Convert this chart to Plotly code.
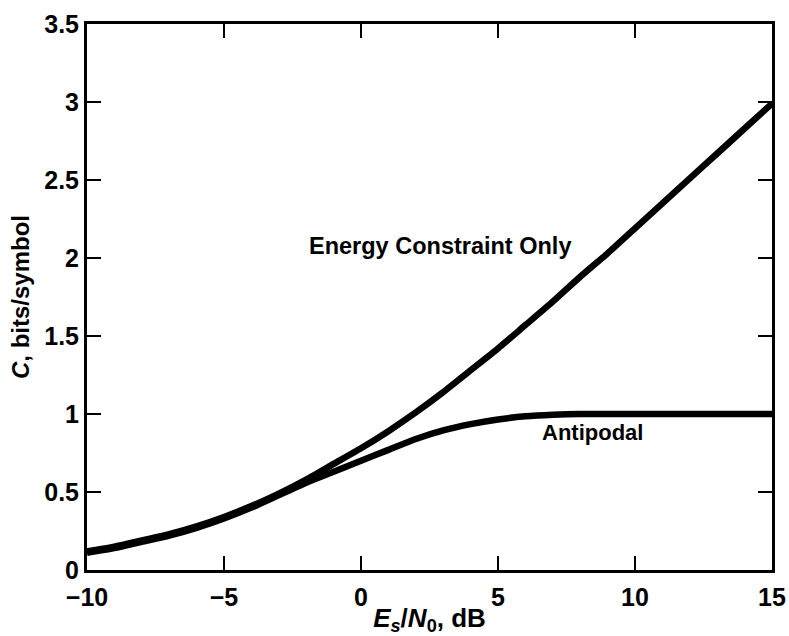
import plotly.graph_objects as go

# Es/N0 in dB
snr_db = [-10, -9, -8, -7, -6, -5, -4, -3, -2, -1, 0, 1, 2, 3, 4, 5,
          6, 7, 8, 9, 10, 11, 12, 13, 14, 15]
# Capacity, bits/symbol
energy_only = [0.12, 0.15, 0.19, 0.23, 0.28, 0.34, 0.41, 0.49, 0.58, 0.68,
               0.78, 0.89, 1.01, 1.14, 1.28, 1.42, 1.57, 1.72, 1.88, 2.03,
               2.19, 2.35, 2.51, 2.67, 2.83, 2.99]
antipodal = [0.11, 0.14, 0.18, 0.22, 0.27, 0.33, 0.40, 0.48, 0.56, 0.63,
             0.70, 0.77, 0.84, 0.895, 0.935, 0.965, 0.985, 0.995, 1.0, 1.0,
             1.0, 1.0, 1.0, 1.0, 1.0, 1.0]

x_ticks = [-10, -5, 0, 5, 10, 15]
y_ticks = [0, 0.5, 1, 1.5, 2, 2.5, 3, 3.5]
y_tick_text = ["0", "0.5", "1", "1.5", "2", "2.5", "3", "3.5"]

FONT = "Liberation Sans, Arial, Helvetica, sans-serif"

fig = go.Figure()
fig.add_trace(go.Scatter(x=snr_db, y=energy_only, mode="lines",
                         line=dict(color="black", width=6.5, shape="spline", smoothing=0.6),
                         name="Energy Constraint Only", showlegend=False))
fig.add_trace(go.Scatter(x=snr_db, y=antipodal, mode="lines",
                         line=dict(color="black", width=6.5, shape="spline", smoothing=0.6),
                         name="Antipodal", showlegend=False))

fig.add_annotation(x=2.87, y=2.08, text="Energy Constraint Only", showarrow=False,
                   font=dict(family=FONT, size=23.5, color="black", weight="bold"))
fig.add_annotation(x=8.45, y=0.88, text="Antipodal", showarrow=False,
                   font=dict(family=FONT, size=22, color="black", weight="bold"))

axis_common = dict(showline=True, linecolor="black", linewidth=3, mirror="allticks",
                   ticks="inside", ticklen=14, tickwidth=2, tickcolor="black",
                   showgrid=False, zeroline=False, automargin=False,
                   tickfont=dict(family=FONT, size=25, color="black", weight="bold"))

fig.update_xaxes(range=[-10, 15], tickvals=x_ticks, ticklabelstandoff=3,
                 title=dict(text="<i>E<sub>s</sub></i>/<i>N</i><sub>0</sub>, dB",
                            font=dict(family=FONT, size=26, color="black", weight="bold"),
                            standoff=3),
                 **axis_common)
fig.update_yaxes(range=[0, 3.5], tickvals=y_ticks, ticktext=y_tick_text,
                 title=dict(text="<i>C</i>, bits/symbol",
                            font=dict(family=FONT, size=24, color="black", weight="bold"),
                            standoff=8),
                 **axis_common)

fig.update_layout(width=789, height=636, margin=dict(l=87, r=17, t=24, b=66),
                  plot_bgcolor="white", paper_bgcolor="white")

fig.write_html("out.html")
